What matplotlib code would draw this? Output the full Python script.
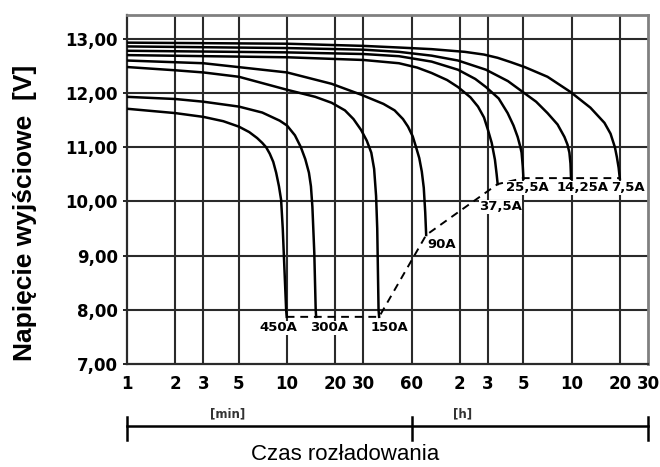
import numpy as np
import matplotlib.pyplot as plt

# discharge time in minutes, voltage in V
t_450 = [1, 2, 3, 4, 5, 5.8, 6.5, 7.0, 7.4, 7.8, 8.2, 8.55, 8.9, 9.18, 9.4, 9.87, 9.95]
v_450 = [11.71, 11.63, 11.56, 11.48, 11.38, 11.28, 11.17, 11.08, 11.0, 10.88, 10.73, 10.53, 10.28, 10.03, 9.5, 8.0, 7.87]

t_300 = [1, 2, 3, 5, 7, 9, 10, 11.2, 12.2, 13.0, 13.7, 14.1, 14.4, 14.8, 15.1, 15.2]
v_300 = [11.93, 11.89, 11.84, 11.75, 11.64, 11.49, 11.4, 11.22, 11.0, 10.78, 10.53, 10.28, 9.9, 9.05, 8.0, 7.87]

t_150 = [1, 2, 3, 5, 10, 15, 19, 23, 26, 29, 31.5, 33.6, 35.0, 36.0, 36.6, 37.3, 37.6]
v_150 = [12.48, 12.42, 12.38, 12.3, 12.06, 11.93, 11.82, 11.68, 11.52, 11.32, 11.12, 10.9, 10.6, 10.1, 9.5, 8.0, 7.87]

t_90 = [1, 3, 10, 19, 29, 40, 47, 53, 57, 61, 64, 67, 69.5, 71.5, 73, 74]
v_90 = [12.6, 12.55, 12.38, 12.17, 11.97, 11.8, 11.68, 11.52, 11.38, 11.2, 11.0, 10.8, 10.55, 10.25, 9.8, 9.38]

t_375 = [1, 10, 30, 50, 65, 80, 100, 117, 140, 156, 170, 180, 190, 199, 204, 207]
v_375 = [12.7, 12.66, 12.61, 12.55, 12.47, 12.37, 12.24, 12.11, 11.92, 11.75, 11.55, 11.32, 11.08, 10.77, 10.5, 10.32]

t_255 = [1, 10, 30, 50, 80, 117, 150, 175, 210, 239, 260, 276, 286, 292, 297, 300]
v_255 = [12.78, 12.75, 12.72, 12.68, 12.58, 12.43, 12.26, 12.11, 11.9, 11.63, 11.4, 11.19, 11.02, 10.9, 10.65, 10.42]

t_1425 = [1, 10, 30, 50, 80, 117, 175, 240, 297, 360, 424, 490, 541, 565, 581, 590, 595]
v_1425 = [12.86, 12.83, 12.8, 12.76, 12.69, 12.6, 12.43, 12.22, 12.02, 11.84, 11.63, 11.42, 11.19, 11.05, 10.9, 10.7, 10.42]

t_75 = [1, 10, 30, 50, 80, 129, 170, 207, 250, 305, 424, 590, 786, 962, 1050, 1118, 1150, 1180, 1200]
v_75 = [12.93, 12.91, 12.87, 12.84, 12.81, 12.76, 12.71, 12.65, 12.57, 12.48, 12.3, 12.02, 11.73, 11.45, 11.25, 11.0, 10.82, 10.62, 10.42]

# end-of-discharge voltage line
t_end = [9.95, 15.2, 37.6, 74, 207, 300, 1200]
v_end = [7.87, 7.87, 7.87, 9.38, 10.32, 10.43, 10.43]

labels = ["450A", "300A", "150A", "90A", "37,5A", "25,5A", "14,25A", "7,5A"]
label_t = [8.8, 18.2, 43.6, 92, 216, 317, 703, 1347]
label_v = [7.67, 7.67, 7.67, 9.2, 9.9, 10.25, 10.25, 10.25]

xticks = [1, 2, 3, 5, 10, 20, 30, 60, 120, 180, 300, 600, 1200, 1800]
xticklabels = ["1", "2", "3", "5", "10", "20", "30", "60", "2", "3", "5", "10", "20", "30"]
yticks = [7, 8, 9, 10, 11, 12, 13]

fig = plt.figure(figsize=(6.6, 4.67), dpi=100)
ax = fig.add_axes([127 / 660, 103 / 467, 521 / 660, 349 / 467])

ax.set_xscale("log")
ax.set_xlim(1, 1800)
ax.set_ylim(7, 13.44)

for x in xticks[1:-1]:
    ax.axvline(x, color="#2a2a2a", lw=1.5, zorder=1)
for y in yticks[1:]:
    ax.axhline(y, color="#2a2a2a", lw=1.5, zorder=1)

curves = [(t_450, v_450), (t_300, v_300), (t_150, v_150), (t_90, v_90),
          (t_375, v_375), (t_255, v_255), (t_1425, v_1425), (t_75, v_75)]
for t, v in curves:
    ax.plot(t, v, color="black", lw=1.8, zorder=3, solid_joinstyle="round")

ax.plot(t_end, v_end, color="black", lw=1.4, ls=(0, (4, 3)), zorder=3)

for lab, x, y in zip(labels, label_t, label_v):
    ax.text(x, y, lab, ha="center", va="center", fontsize=9.5, fontweight="bold",
            family="DejaVu Sans", zorder=4,
            bbox=dict(facecolor="white", edgecolor="none", pad=0.3))

ax.set_xticks(xticks)
ax.set_xticklabels(xticklabels, fontsize=12, fontweight="bold", family="DejaVu Sans")
ax.xaxis.set_minor_locator(plt.NullLocator())
ax.tick_params(axis="x", length=0, pad=8)
ax.set_yticks(yticks)
ax.set_yticklabels([f"{y},00" for y in yticks], fontsize=12, fontweight="bold",
                   family="DejaVu Sans")
ax.tick_params(axis="y", length=3, width=1.2, pad=3.5)

for s in ["left", "bottom"]:
    ax.spines[s].set_linewidth(1.6)
    ax.spines[s].set_color("#2a2a2a")
for s in ["top", "right"]:
    ax.spines[s].set_linewidth(2)
    ax.spines[s].set_color("#808080")

# time bracket under the axis
tr = ax.get_xaxis_transform()
ax.plot([1, 1800], [-0.178, -0.178], color="black", lw=1.8, transform=tr, clip_on=False)
for x in [1, 60, 1800]:
    ax.plot([x, x], [-0.152, -0.218], color="black", lw=1.8, transform=tr, clip_on=False)
ax.text(4.24, -0.142, "[min]", transform=tr, ha="center", va="center", fontsize=8.5,
        fontweight="bold", family="DejaVu Sans", color="#333333")
ax.text(125, -0.142, "[h]", transform=tr, ha="center", va="center", fontsize=8.5,
        fontweight="bold", family="DejaVu Sans", color="#333333")

fig.text(345 / 660, 1 - 455 / 467, "Czas rozładowania", ha="center", va="center",
         fontsize=16, family="Liberation Sans")
fig.text(25 / 660, 1 - 213 / 467, "Napięcie wyjściowe  [V]", ha="center", va="center",
         rotation=90, fontsize=19, fontweight="bold", family="Liberation Sans")

fig.savefig("out.png", dpi=100)
